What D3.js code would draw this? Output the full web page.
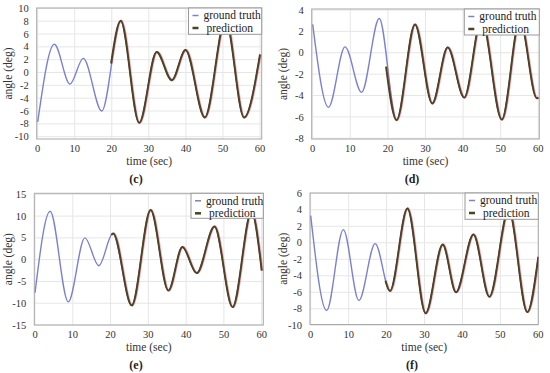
<!DOCTYPE html>
<html><head><meta charset="utf-8">
<script src="https://cdn.jsdelivr.net/npm/d3@7"></script>
<style>body{margin:0;background:#fff}svg{display:block}
svg text{font-family:"Liberation Serif","Times New Roman",Times,serif}</style>
</head><body>
<svg id="chart" width="550" height="373"></svg>
<script>
// ---- data (time in sec, angle in deg) ----
const panelIds = ["c", "d", "e", "f"];
const xTicks = [0, 10, 20, 30, 40, 50, 60];
const yTicksC = [-10, -8, -6, -4, -2, 0, 2, 4, 6, 8, 10];
const yTicksD = [-8, -6, -4, -2, 0, 2, 4];
const yTicksE = [-15, -10, -5, 0, 5, 10, 15];
const yTicksF = [-10, -8, -6, -4, -2, 0, 2, 4, 6];

const truthC_t = [0, 4.5, 8.7, 12.3, 17.3, 22.4, 27.4, 32.1, 36.2, 39.9, 45.1, 50.7, 55.7, 60];
const truthC_v = [-7.7, 4.4, -1.8, 2.2, -6.0, 8.0, -7.8, 3.2, -1.2, 3.5, -7.0, 8.3, -7.0, 2.8];
const predC_t = [19.8, 22.4, 27.4, 32.1, 36.2, 39.9, 45.1, 50.7, 55.7, 60];
const predC_v = [1.4, 8.05, -7.85, 3.2, -1.2, 3.5, -7.0, 8.3, -7.0, 2.8];

const truthD_t = [0, 4.2, 8.6, 13.0, 17.7, 22.3, 27.2, 31.8, 35.9, 40.3, 44.9, 50.3, 55.1, 59.6, 60];
const truthD_v = [2.65, -5.1, 0.55, -3.7, 3.2, -6.3, 2.65, -4.75, 0.5, -4.2, 3.2, -6.25, 3.1, -4.25, -4.2];
const predD_t = [19.5, 22.3, 27.2, 31.8, 35.9, 40.3, 44.9, 50.3, 55.1, 59.6, 60];
const predD_v = [-1.3, -6.3, 2.65, -4.75, 0.5, -4.2, 3.2, -6.25, 3.1, -4.25, -4.2];

const truthE_t = [0, 4.0, 8.8, 13.2, 16.9, 20.6, 25.6, 30.6, 35.3, 39.0, 42.8, 47.5, 52.3, 57.3, 60];
const truthE_v = [-7.6, 11.1, -9.7, 5.0, -1.4, 6.0, -10.5, 11.4, -7.1, 2.9, -3.1, 7.6, -10.9, 11.0, -2.5];
const predE_t = [20.2, 20.7, 25.6, 30.6, 35.3, 39.0, 42.8, 47.5, 52.3, 57.3, 60];
const predE_v = [5.7, 6.0, -10.5, 11.4, -7.1, 2.9, -3.1, 7.6, -10.9, 11.0, -2.5];

const truthF_t = [0, 4.2, 8.6, 12.7, 17.0, 20.9, 25.5, 30.3, 34.8, 38.3, 42.9, 47.1, 52.2, 57.1, 60];
const truthF_v = [3.3, -8.2, 1.6, -7.0, -0.1, -5.85, 4.15, -8.55, -0.2, -6.0, 1.0, -6.55, 4.0, -8.4, -1.7];
const predF_t = [19.7, 20.9, 25.5, 30.3, 34.8, 38.3, 42.9, 47.1, 52.2, 57.1, 60];
const predF_v = [-4.6, -5.85, 4.15, -8.55, -0.2, -6.0, 1.0, -6.55, 4.0, -8.4, -1.7];

const legendLabels = ["ground truth", "prediction"];
const xTitle = "time (sec)";
const yTitle = "angle (deg)";

// ---- layout ----
const panels = [
  {id: "c", frame: [36.7, 8, 261.7, 139], xr: [37.7, 260], yr: [136.7, 8.3], yd: [-10, 10], yTicks: yTicksC,
   truth: [truthC_t, truthC_v], pred: [predC_t, predC_v], leg: [188.5, 8, 261.7, 34.3], titleX: 12, capX: 136},
  {id: "d", frame: [311.7, 9, 539.3, 139], xr: [312.7, 538.3], yr: [138.3, 10], yd: [-8, 4], yTicks: yTicksD,
   truth: [truthD_t, truthD_v], pred: [predD_t, predD_v], leg: [464.3, 9, 539.3, 35], titleX: 287, capX: 412},
  {id: "e", frame: [34.3, 193.3, 263.3, 325], xr: [35, 261.7], yr: [325, 194.3], yd: [-15, 15], yTicks: yTicksE,
   truth: [truthE_t, truthE_v], pred: [predE_t, predE_v], leg: [191, 193.3, 263.3, 218.3], titleX: 12, capX: 136},
  {id: "f", frame: [310, 193, 538.3, 324.5], xr: [310.7, 538.3], yr: [325.3, 193.3], yd: [-10, 6], yTicks: yTicksF,
   truth: [truthF_t, truthF_v], pred: [predF_t, predF_v], leg: [465, 193, 538.3, 219.3], titleX: 287, capX: 412}
];

const svg = d3.select("#chart");
const blue = "#7b80d2";
const dark = "#4d4222";

panels.forEach(p => {
  const g = svg.append("g");
  const x = d3.scaleLinear().domain([0, 60]).range(p.xr);
  const y = d3.scaleLinear().domain(p.yd).range(p.yr);
  const [fl, ft, fr, fb] = p.frame;

  // grid
  g.selectAll(".vg").data(xTicks).join("line")
    .attr("x1", d => x(d)).attr("x2", d => x(d)).attr("y1", ft).attr("y2", fb)
    .attr("stroke", "#e6e6e6").attr("stroke-width", 1);
  g.selectAll(".hg").data(p.yTicks).join("line")
    .attr("x1", fl).attr("x2", fr).attr("y1", d => y(d)).attr("y2", d => y(d))
    .attr("stroke", "#e6e6e6").attr("stroke-width", 1);

  // frame
  g.append("rect").attr("x", fl).attr("y", ft).attr("width", fr - fl).attr("height", fb - ft)
    .attr("fill", "none").attr("stroke", "#a8a8a8").attr("stroke-width", 1);

  // tick labels
  g.selectAll(".xl").data(xTicks).join("text")
    .attr("x", d => x(d)).attr("y", fb + 13).attr("text-anchor", "middle")
    .attr("font-size", 10.5).attr("fill", "#333").text(d => d);
  g.selectAll(".yl").data(p.yTicks).join("text")
    .attr("x", fl - 8).attr("y", d => y(d) + 3.6).attr("text-anchor", "end")
    .attr("font-size", 10.5).attr("fill", "#333").text(d => d);

  // titles
  g.append("text").attr("x", (fl + fr) / 2).attr("y", fb + 26).attr("text-anchor", "middle")
    .attr("font-size", 11.5).attr("fill", "#333").text(xTitle);
  g.append("text").attr("transform", `translate(${p.titleX},${(ft + fb) / 2}) rotate(-90)`)
    .attr("text-anchor", "middle").attr("font-size", 11.5).attr("fill", "#333").text(yTitle);
  g.append("text").attr("x", p.capX).attr("y", fb + 44).attr("text-anchor", "middle")
    .attr("font-size", 12).attr("font-weight", "bold").attr("fill", "#222").text(`(${p.id})`);

  const line = d3.line().x(d => x(d[0])).y(d => y(d[1])).curve(d3.curveMonotoneX);
  const clip = "clip" + p.id;
  svg.append("clipPath").attr("id", clip).append("rect")
    .attr("x", fl).attr("y", ft).attr("width", fr - fl).attr("height", fb - ft);
  const truth = d3.zip(p.truth[0], p.truth[1]);
  const pred = d3.zip(p.pred[0], p.pred[1]);
  g.append("path").datum(truth).attr("d", line).attr("fill", "none")
    .attr("stroke", blue).attr("stroke-width", 1.4).attr("clip-path", `url(#${clip})`);
  g.append("path").datum(pred).attr("d", line).attr("fill", "none")
    .attr("stroke", "#d0506a").attr("stroke-width", 2.4).attr("transform", "translate(0.6,0)")
    .attr("stroke-opacity", 0.45).attr("clip-path", `url(#${clip})`);
  g.append("path").datum(pred).attr("d", line).attr("fill", "none")
    .attr("stroke", dark).attr("stroke-width", 1.9).attr("clip-path", `url(#${clip})`);

  // legend
  const [ll, lt, lr, lb] = p.leg;
  const lg = g.append("g");
  lg.append("rect").attr("x", ll).attr("y", lt).attr("width", lr - ll).attr("height", lb - lt)
    .attr("fill", "#fff").attr("stroke", "#9a9a9a").attr("stroke-width", 1);
  const rows = [{c: blue, w: 1.5, t: legendLabels[0], dx: 15}, {c: dark, w: 2.5, t: legendLabels[1], dx: 18}];
  rows.forEach((r, i) => {
    const cy = lt + 7.5 + i * 12.5;
    lg.append("line").attr("x1", ll + 4).attr("x2", ll + 10).attr("y1", cy).attr("y2", cy)
      .attr("stroke", r.c).attr("stroke-width", r.w);
    lg.append("text").attr("x", ll + r.dx).attr("y", cy + 3.8)
      .attr("font-size", 11.5).attr("fill", "#222").text(r.t);
  });
});
</script>
</body></html>
